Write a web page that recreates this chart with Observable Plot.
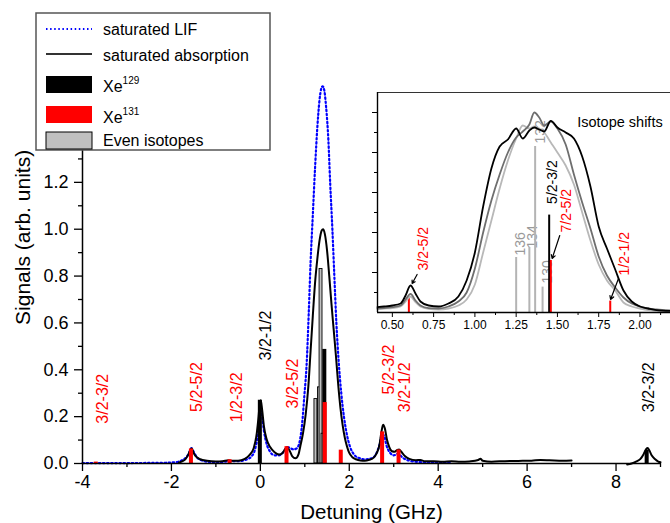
<!DOCTYPE html>
<html><head><meta charset="utf-8">
<script src="https://cdn.jsdelivr.net/npm/d3@7"></script>
<script src="https://cdn.jsdelivr.net/npm/@observablehq/plot@0.6"></script>
<style>
body{margin:0;background:#fff;overflow:hidden;}
#wrap{position:relative;width:670px;height:523px;overflow:hidden;font-family:"Liberation Sans",Arial,sans-serif;}
#wrap svg{position:absolute;}
</style></head><body><div id="wrap"></div>
<script>
// ---------- data ----------
// saturated absorption (main)
const absX = [-1.83,-1.75,-1.68,-1.62,-1.57,-1.54,-1.5,-1.45,-1.35,-1.2,-1.0,-0.85,-0.72,-0.65,-0.5,-0.35,-0.25,-0.15,-0.08,-0.04,-0.01,0.01,0.04,0.08,0.14,0.22,0.32,0.42,0.5,0.56,0.6,0.65,0.72,0.79,0.86,0.9,0.96,1.02,1.08,1.13,1.18,1.23,1.28,1.33,1.38,1.41,1.45,1.5,1.55,1.6,1.65,1.7,1.75,1.8,1.85,1.9,1.95,2.0,2.07,2.15,2.25,2.35,2.45,2.55,2.62,2.68,2.72,2.76,2.8,2.85,2.9,2.96,3.02,3.08,3.12,3.17,3.25,3.35,3.5,3.6,3.7,3.9,4.1,4.3,4.5,4.7,4.9,4.95,5.0,5.2,5.5,5.8,6.1,6.3,6.5,6.8,7.0,7.5,8.25,8.35,8.45,8.55,8.62,8.68,8.71,8.75,8.8,8.88,8.95,9.0];
const absY = [0.004,0.01,0.02,0.038,0.06,0.064,0.045,0.03,0.018,0.012,0.009,0.01,0.014,0.012,0.012,0.02,0.035,0.065,0.13,0.2,0.262,0.27,0.23,0.16,0.105,0.07,0.048,0.038,0.045,0.062,0.07,0.058,0.03,0.022,0.04,0.075,0.13,0.21,0.33,0.48,0.63,0.77,0.87,0.95,0.995,1.0,0.98,0.91,0.8,0.68,0.57,0.46,0.34,0.24,0.165,0.11,0.072,0.045,0.027,0.018,0.013,0.012,0.016,0.025,0.045,0.08,0.13,0.165,0.15,0.1,0.07,0.052,0.05,0.058,0.06,0.05,0.032,0.02,0.014,0.015,0.01,0.01,0.008,0.01,0.007,0.009,0.015,0.02,0.012,0.008,0.01,0.011,0.012,0.015,0.014,0.012,0.013,NaN,-0.004,0.0,0.008,0.02,0.04,0.062,0.066,0.055,0.035,0.018,0.008,0.005];
// saturated LIF (main)
const lifX = [-4.0,-3.0,-2.2,-1.9,-1.75,-1.65,-1.58,-1.55,-1.5,-1.42,-1.3,-1.1,-0.9,-0.7,-0.5,-0.3,-0.2,-0.12,-0.06,-0.02,0.01,0.04,0.08,0.14,0.22,0.32,0.42,0.5,0.57,0.62,0.68,0.75,0.82,0.88,0.94,0.99,1.04,1.09,1.13,1.18,1.23,1.28,1.33,1.37,1.4,1.43,1.48,1.53,1.57,1.62,1.66,1.71,1.76,1.82,1.88,1.95,2.02,2.1,2.2,2.35,2.5,2.6,2.68,2.74,2.78,2.84,2.92,3.0,3.1,3.2,3.35,3.6,4.0,4.3];
const lifY = [0.002,0.002,0.003,0.006,0.015,0.03,0.055,0.066,0.05,0.025,0.012,0.006,0.006,0.01,0.01,0.018,0.03,0.06,0.12,0.2,0.225,0.2,0.14,0.085,0.05,0.035,0.035,0.045,0.062,0.07,0.065,0.06,0.065,0.09,0.17,0.29,0.42,0.65,0.86,1.06,1.26,1.43,1.55,1.6,1.61,1.6,1.52,1.38,1.2,1.0,0.82,0.6,0.44,0.3,0.2,0.12,0.07,0.04,0.025,0.018,0.022,0.04,0.08,0.125,0.12,0.075,0.045,0.035,0.042,0.025,0.012,0.006,0.004,0.003];
// stick spectra
const xe131X = [-3.69,-1.55,-0.68,0.60,1.46,1.82,2.75,3.12];
const xe131Y = [0.006,0.062,0.016,0.072,0.26,0.057,0.135,0.058];
const xe129X = [0,1.45,8.7];
const xe129Y = [0.27,0.487,0.056];
const evenX = [1.25,1.33,1.365,1.41];
const evenY = [0.275,0.325,0.83,0.127];
const evenNames = ["136","134","132","130"];
// transition labels (main)
const trText  = ["3/2-3/2","5/2-5/2","1/2-3/2","3/2-1/2","3/2-5/2","5/2-3/2","3/2-1/2","3/2-3/2"];
const trX     = [-3.55,-1.42,-0.53,0.13,0.74,2.88,3.24,8.73];
const trY     = [0.17,0.22,0.176,0.44,0.235,0.295,0.219,0.219];
const trColor = ["red","red","red","black","red","red","red","black"];
// inset curves
const inX     = [0.41,0.45,0.5,0.55,0.58,0.61,0.64,0.67,0.72,0.78,0.84,0.9,0.95,1.0,1.05,1.1,1.15,1.2,1.25,1.29,1.33,1.36,1.39,1.42,1.46,1.5,1.55,1.6,1.65,1.7,1.75,1.8,1.85,1.9,1.95,2.0,2.05,2.1,2.185];
const inBlack = [0.027,0.03,0.035,0.045,0.085,0.135,0.095,0.055,0.035,0.03,0.045,0.08,0.16,0.3,0.53,0.72,0.83,0.865,0.92,0.87,0.91,0.925,0.915,0.905,0.958,0.925,0.9,0.87,0.78,0.63,0.43,0.32,0.215,0.11,0.055,0.03,0.02,0.012,0.008];
const inDark  = [0.02,0.022,0.027,0.035,0.065,0.093,0.06,0.035,0.022,0.02,0.03,0.055,0.1,0.22,0.4,0.56,0.69,0.8,0.875,0.905,0.94,1.0,0.975,0.935,0.955,0.92,0.84,0.69,0.55,0.42,0.28,0.185,0.125,0.075,0.045,0.03,0.02,0.015,0.01];
const inLight = [0.018,0.02,0.022,0.03,0.055,0.08,0.052,0.03,0.018,0.015,0.02,0.035,0.065,0.14,0.3,0.46,0.62,0.76,0.87,0.935,0.92,0.93,0.92,0.9,0.85,0.8,0.735,0.64,0.5,0.36,0.24,0.16,0.11,0.05,0.03,0.02,0.012,0.008,0.005];
// inset labels
const inLabText  = ["3/2-5/2","136","134","132","130","5/2-3/2","7/2-5/2","1/2-1/2"];
const inLabX     = [0.69,1.277,1.351,1.395,1.438,1.472,1.553,1.906];
const inLabY     = [0.21,0.285,0.32,0.845,0.145,0.543,0.40,0.185];
const inLabColor = ["red","#9a9a9a","#9a9a9a","#9a9a9a","#9a9a9a","black","red","red"];
const arrowX1 = [0.65,1.514,1.87], arrowY1 = [0.19,0.385,0.17];
const arrowX2 = [0.62,1.468,1.822], arrowY2 = [0.145,0.27,0.065];
// axes ticks
const xMajor = [-4,-2,0,2,4,6,8], xMinor = [-3,-1,1,3,5,7,9];
const xMajorLabels = ["-4","-2","0","2","4","6","8"];
const yMajor = [0,0.2,0.4,0.6,0.8,1.0,1.2,1.4,1.6], yMinor = [0.1,0.3,0.5,0.7,0.9,1.1,1.3,1.5,1.7];
const inXMajor = [0.5,0.75,1.0,1.25,1.5,1.75,2.0], inXMinor = [0.625,0.875,1.125,1.375,1.625,1.875,2.125];
const inYMajor = [0.2,0.4,0.6,0.8,1.0], inYMinor = [0.1,0.3,0.5,0.7,0.9];

// ---------- tables ----------
const zip = (xs, ys) => xs.map((x, i) => ({x, y: ys[i]}));
const abs = zip(absX, absY), lif = zip(lifX, lifY);
const x131 = zip(xe131X, xe131Y), x129 = zip(xe129X, xe129Y);
const even = evenX.map((x, i) => ({x, y: evenY[i], n: evenNames[i]}));
const tr = trText.map((t, i) => ({t, x: trX[i], y: trY[i], c: trColor[i]}));
const inCurves = [
  ...inX.map((x, i) => ({x, y: inLight[i], s: "light"})),
  ...inX.map((x, i) => ({x, y: inDark[i], s: "dark"})),
  ...inX.map((x, i) => ({x, y: inBlack[i], s: "black"}))
];
const inLab = inLabText.map((t, i) => ({t, x: inLabX[i], y: inLabY[i], c: inLabColor[i]}));
const arrows = arrowX1.map((x1, i) => ({x1, y1: arrowY1[i], x2: arrowX2[i], y2: arrowY2[i]}));

const F = '"Liberation Sans", Arial, Helvetica, sans-serif';
const wrap = document.getElementById("wrap");

// ---------- main chart ----------
const main = Plot.plot({
  width: 670, height: 523,
  marginLeft: 82, marginRight: 10, marginTop: 53, marginBottom: 60,
  style: {fontFamily: F, fontSize: "18px", color: "#000", background: "transparent", overflow: "visible"},
  x: {domain: [-4, 9]},
  y: {domain: [0, 1.75]},
  marks: [
    Plot.line(lif, {x: "x", y: "y", curve: "monotone-x", stroke: "#0000ff", strokeWidth: 2.2, strokeDasharray: "1.5,2.6"}),
    Plot.line(abs, {x: "x", y: "y", curve: "monotone-x", stroke: "#000", strokeWidth: 2}),
    Plot.rect(even, {x1: d => d.x - 0.033, x2: d => d.x + 0.033, y1: 0, y2: "y", fill: "#c0c0c0", stroke: "#000", strokeWidth: 0.9}),
    Plot.rect(x129, {x1: d => d.x - 0.045, x2: d => d.x + 0.045, y1: 0, y2: "y", fill: "#000"}),
    Plot.rect(x131, {x1: d => d.x - 0.045, x2: d => d.x + 0.045, y1: 0, y2: "y", fill: "#ff0000"}),
    Plot.text(tr, {x: "x", y: "y", text: "t", fill: "c", rotate: -90, textAnchor: "start", lineAnchor: "middle", fontSize: 16}),
    Plot.axisX({ticks: xMajor, tickSize: 8, tickPadding: 4, tickFormat: d => xMajorLabels[xMajor.indexOf(d)], label: null, strokeWidth: 1.3}),
    Plot.axisX({ticks: xMinor, tickSize: 4, tickFormat: () => "", label: null, strokeWidth: 1.3}),
    Plot.axisY({ticks: yMajor, tickSize: 8, tickPadding: 6, tickFormat: d3.format(".1f"), label: null, strokeWidth: 1.3}),
    Plot.axisY({ticks: yMinor, tickSize: 4, tickFormat: () => "", label: null, strokeWidth: 1.3}),
    Plot.ruleY([0], {strokeWidth: 1.5}),
    Plot.ruleX([-4], {strokeWidth: 1.5}),
    Plot.text(["Detuning (GHz)"], {frameAnchor: "bottom", dy: 48.5, lineAnchor: "middle", fontSize: 20.5}),
    Plot.text(["Signals (arb. units)"], {x: -5.33, y: 0.965, rotate: -90, lineAnchor: "middle", textAnchor: "middle", fontSize: 21})
  ]
});
wrap.appendChild(main);
main.style.left = "0px"; main.style.top = "0px";

// ---------- inset ----------
const inset = Plot.plot({
  width: 303, height: 246,
  marginLeft: 10, marginRight: 0, marginTop: 2, marginBottom: 24,
  style: {fontFamily: F, fontSize: "12px", color: "#000", background: "#fff", overflow: "visible"},
  x: {domain: [0.41, 2.185]},
  y: {domain: [0, 1.1]},
  marks: [
    Plot.text(inLab, {x: "x", y: "y", text: "t", fill: "c", rotate: -90, textAnchor: "start", lineAnchor: "middle", fontSize: 14}),
    Plot.ruleX(even, {x: "x", y1: 0, y2: "y", stroke: "#b4b4b4", strokeWidth: 2}),
    Plot.ruleX(x129, {filter: d => d.x >= 0.41 && d.x <= 2.185, x: "x", y1: 0, y2: "y", stroke: "#000", strokeWidth: 2}),
    Plot.ruleX(x131, {filter: d => d.x >= 0.41 && d.x <= 2.185, x: "x", y1: 0, y2: "y", stroke: "#ff0000", strokeWidth: 2}),
    Plot.line(inCurves, {x: "x", y: "y", z: "s", curve: "monotone-x", stroke: d => d.s === "light" ? "#b8b8b8" : d.s === "dark" ? "#6e6e6e" : "#000", strokeWidth: 1.8}),
    Plot.arrow(arrows, {x1: "x1", y1: "y1", x2: "x2", y2: "y2", stroke: "#000", strokeWidth: 1.2, headLength: 5}),
    Plot.text(["Isotope shifts"], {x: 1.62, y: 0.95, textAnchor: "start", lineAnchor: "middle", fontSize: 14.5}),
    Plot.axisX({ticks: inXMajor, tickSize: 5, tickPadding: 3, tickFormat: d3.format(".2f"), label: null}),
    Plot.axisX({ticks: inXMinor, tickSize: 3, tickFormat: () => "", label: null}),
    Plot.axisY({ticks: inYMajor, tickSize: 5, tickFormat: () => "", label: null}),
    Plot.axisY({ticks: inYMinor, tickSize: 3, tickFormat: () => "", label: null}),
    Plot.ruleY([0], {strokeWidth: 1.4}),
    Plot.ruleY([1.1], {strokeWidth: 1, stroke: "#333"}),
    Plot.ruleX([0.41], {strokeWidth: 1.4})
  ]
});
wrap.appendChild(inset);
inset.style.left = "367px"; inset.style.top = "90px";

// ---------- legend ----------
const legendItems = [
  {label: "saturated LIF", kind: "dot", y: 17, ty: 23},
  {label: "saturated absorption", kind: "line", y: 42, ty: 48.7},
  {label: "Xe", sup: "129", kind: "rect", fill: "#000", y: 64, ty: 80.3},
  {label: "Xe", sup: "131", kind: "rect", fill: "#ff0000", y: 94, ty: 110.7},
  {label: "Even isotopes", kind: "rect", fill: "#c0c0c0", stroke: "#000", y: 120, ty: 134}
];
const leg = d3.create("svg").attr("width", 238).attr("height", 140)
  .style("left", "34px").style("top", "12px").style("font-family", F);
leg.append("rect").attr("x", 2).attr("y", 1).attr("width", 234).attr("height", 137)
  .attr("fill", "#fff").attr("stroke", "#555").attr("stroke-width", 1.5);
for (const it of legendItems) {
  if (it.kind === "dot") {
    leg.append("line").attr("x1", 12).attr("x2", 58).attr("y1", it.y).attr("y2", it.y)
      .attr("stroke", "#0000ff").attr("stroke-width", 2.2).attr("stroke-dasharray", "1.5,2.6");
  } else if (it.kind === "line") {
    leg.append("line").attr("x1", 12).attr("x2", 58).attr("y1", it.y).attr("y2", it.y)
      .attr("stroke", "#333").attr("stroke-width", 1.8);
  } else {
    leg.append("rect").attr("x", 12).attr("y", it.y).attr("width", 46).attr("height", 17)
      .attr("fill", it.fill).attr("stroke", it.stroke || "none").attr("stroke-width", 1);
  }
  const t = leg.append("text").attr("x", 69).attr("y", it.ty).attr("font-size", 16).attr("fill", "#000").text(it.label);
  if (it.sup) t.append("tspan").attr("font-size", 10).attr("dy", -8).text(it.sup);
}
wrap.appendChild(leg.node());
</script>
</body></html>
